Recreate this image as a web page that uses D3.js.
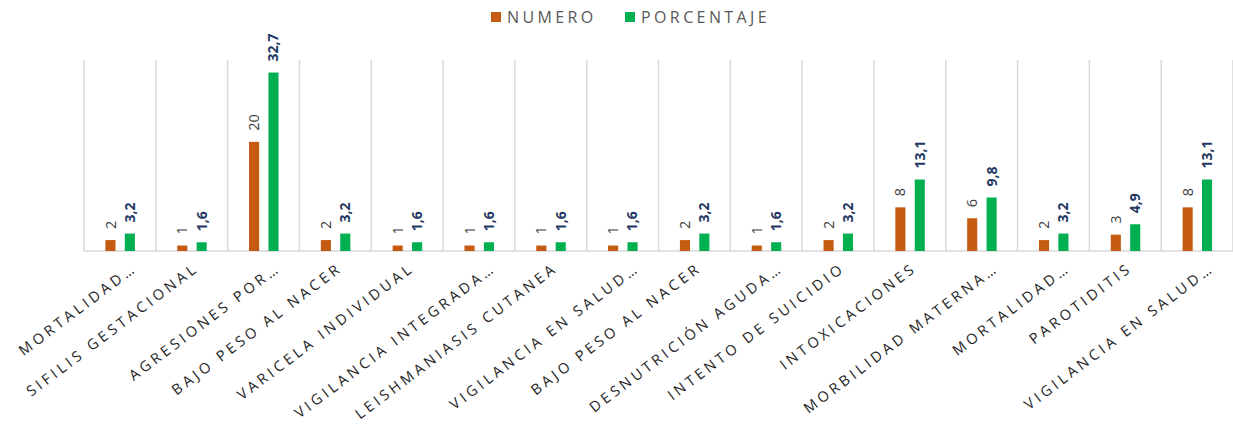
<!DOCTYPE html>
<html lang="es">
<head>
<meta charset="utf-8">
<title>Eventos</title>
<script src="https://d3js.org/d3.v7.min.js"></script>
<style>
  body { margin: 0; background: #fff; }
  text { font-family: "Open Sans", sans-serif; }
  .xlab { font-size: 14.5px; letter-spacing: 3.6px; fill: #262626; }
  .num { font-size: 14.5px; fill: #404040; }
  .pct { font-size: 14px; font-weight: bold; fill: #1f3864; }
  .leg { font-size: 16px; letter-spacing: 3.4px; fill: #595959; }
</style>
</head>
<body>
<script>
var categorias = ["MORTALIDAD…", "SIFILIS GESTACIONAL", "AGRESIONES POR…", "BAJO PESO AL NACER",
  "VARICELA INDIVIDUAL", "VIGILANCIA INTEGRADA…", "LEISHMANIASIS CUTANEA", "VIGILANCIA EN SALUD…",
  "BAJO PESO AL NACER", "DESNUTRICIÓN AGUDA…", "INTENTO DE SUICIDIO", "INTOXICACIONES",
  "MORBILIDAD MATERNA…", "MORTALIDAD…", "PAROTIDITIS", "VIGILANCIA EN SALUD…"]
var numero = [2, 1, 20, 2, 1, 1, 1, 1, 2, 1, 2, 8, 6, 2, 3, 8]
var porcentaje = [3.2, 1.6, 32.7, 3.2, 1.6, 1.6, 1.6, 1.6, 3.2, 1.6, 3.2, 13.1, 9.8, 3.2, 4.9, 13.1]
var series = ["NUMERO", "PORCENTAJE"]
var colores = ["#c55a11", "#00b050"]

var w = 1233, h = 446
var plotL = 84, plotR = 1233, plotT = 60, plotB = 251

var svg = d3.select("body").append("svg").attr("width", w).attr("height", h)

var idx = d3.range(categorias.length)
var x = d3.scaleBand().domain(idx).range([plotL, plotR]).padding(0)
var bw = x.bandwidth()
var xs = d3.scaleBand().domain(series).range([bw / 2 - 14.5, bw / 2 + 15]).paddingInner(0.48)
var y = d3.scaleLinear().domain([0, 35]).range([plotB, plotT])

// vertical gridlines at category boundaries
var bounds = idx.map(function(i) { return x(i) }).concat([plotR])
svg.append("g").selectAll("line").data(bounds).join("line")
  .attr("x1", function(d) { return d }).attr("x2", function(d) { return d })
  .attr("y1", plotT).attr("y2", plotB)
  .attr("stroke", "#d9d9d9").attr("stroke-width", 1.5)

svg.append("line").attr("x1", plotL).attr("x2", plotR).attr("y1", plotB).attr("y2", plotB)
  .attr("stroke", "#d9d9d9").attr("stroke-width", 1.5)

var datos = [numero, porcentaje]
datos.forEach(function(vals, s) {
  var g = svg.append("g")
  g.selectAll("rect").data(vals).join("rect")
    .attr("x", function(d, i) { return x(i) + xs(series[s]) })
    .attr("width", xs.bandwidth())
    .attr("y", function(d) { return y(d) })
    .attr("height", function(d) { return plotB - y(d) })
    .attr("fill", colores[s])

  g.selectAll("text").data(vals).join("text")
    .attr("class", s == 0 ? "num" : "pct")
    .attr("transform", function(d, i) {
      var cx = x(i) + xs(series[s]) + xs.bandwidth() / 2
      return "translate(" + cx + "," + (y(d) - 11) + ") rotate(-90)"
    })
    .attr("dy", "0.35em")
    .text(function(d) { return String(d).replace(".", ",") })
})

// category labels (truncated ones sit a little further right, as in Excel)
svg.append("g").selectAll("text").data(categorias).join("text")
  .attr("class", "xlab")
  .attr("text-anchor", "end")
  .attr("transform", function(d, i) {
    var off = d.slice(-1) == "…" ? 18 : 8
    return "translate(" + (x(i) + bw / 2 + off) + "," + (plotB + 19) + ") rotate(-37)"
  })
  .text(function(d) { return d })

// legend
var legX = [491, 625]
series.forEach(function(s, i) {
  svg.append("rect").attr("x", legX[i]).attr("y", 12).attr("width", 10).attr("height", 10).attr("fill", colores[i])
  svg.append("text").attr("class", "leg").attr("x", legX[i] + 16).attr("y", 23).text(s)
})
</script>
</body>
</html>
